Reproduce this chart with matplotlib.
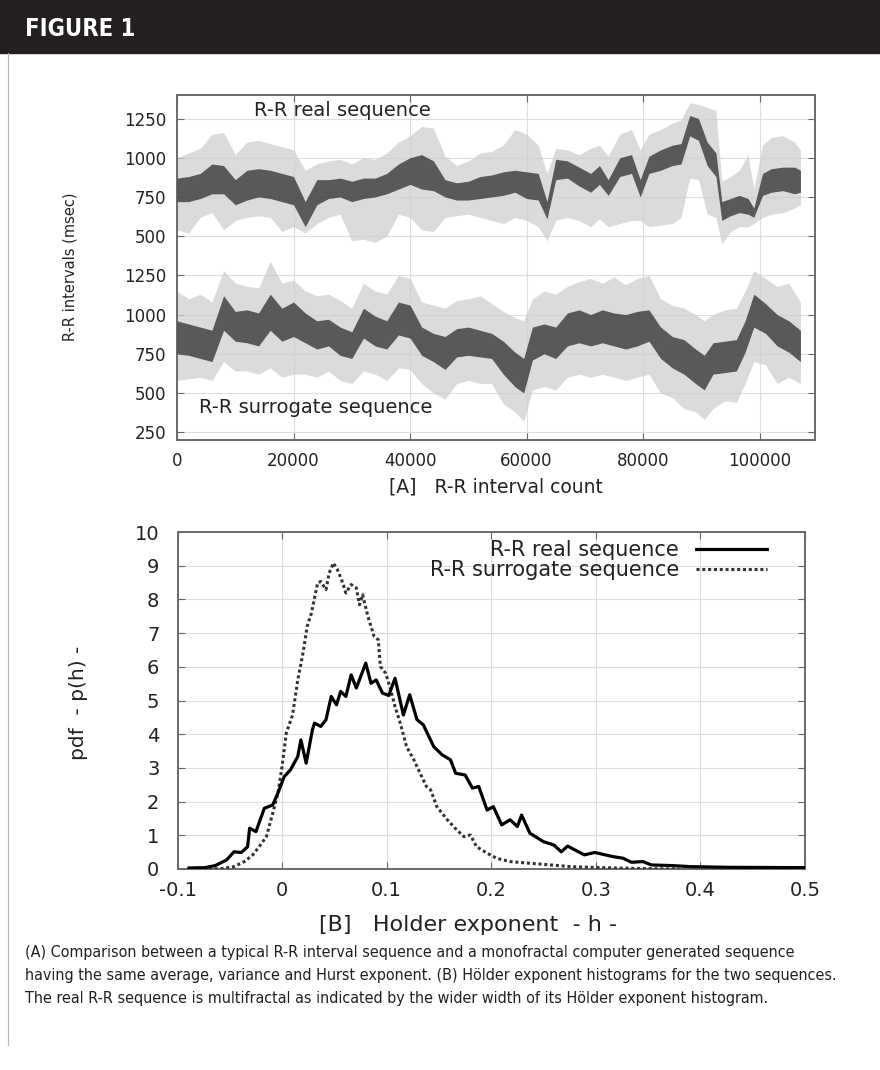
import matplotlib
matplotlib.use("Agg")
import matplotlib.pyplot as plt
from matplotlib import font_manager
from matplotlib.lines import Line2D
from matplotlib.patches import Rectangle
import numpy as np

# ---- data ---------------------------------------------------------------
# panel A: R-R interval sequences, summarised per block of beats
# (lowest sparse point, dense core low, dense core high, highest sparse point)
real_count = [0, 2000, 4000, 6000, 8000, 10000, 12000, 14000, 16000, 18000,
              20000, 22000, 24000, 26000, 28000, 30000, 32000, 34000, 36000, 38000,
              40000, 42000, 44000, 46000, 48000, 50000, 52000, 54000, 56000, 58000,
              60000, 62000, 63500, 65000, 67000, 69000, 71000, 72500, 74000, 76000,
              78000, 79500, 81000, 83000, 85000, 86500, 88000, 89500, 91000, 92500,
              93500, 95000, 96500, 98000, 99000, 100500, 102000, 104000, 106000, 107000]
real_lo = [540, 520, 620, 650, 540, 600, 620, 630, 620, 530,
           560, 520, 580, 620, 640, 470, 480, 460, 500, 640,
           620, 540, 530, 620, 630, 640, 620, 600, 580, 620,
           600, 560, 470, 600, 620, 600, 560, 610, 560, 580,
           600, 600, 560, 570, 580, 620, 870, 860, 640, 620,
           450, 530, 560, 560, 580, 620, 640, 650, 680, 700]
real_core_lo = [720, 720, 740, 770, 770, 700, 730, 750, 740, 720,
                700, 560, 700, 740, 750, 720, 740, 750, 770, 800,
                830, 800, 790, 750, 730, 730, 740, 750, 760, 780,
                740, 730, 610, 860, 870, 820, 780, 830, 760, 880,
                900, 750, 900, 920, 950, 960, 1140, 1110, 950, 880,
                600, 630, 650, 640, 620, 760, 780, 790, 770, 780]
real_core_hi = [870, 880, 900, 960, 950, 860, 920, 930, 920, 900,
                880, 720, 860, 860, 870, 850, 870, 870, 900, 960,
                1000, 1020, 980, 860, 840, 850, 880, 890, 910, 920,
                910, 900, 720, 990, 980, 940, 900, 950, 860, 1000,
                1020, 860, 1010, 1050, 1080, 1090, 1270, 1250, 1100, 1030,
                720, 740, 760, 740, 680, 900, 930, 940, 940, 920]
real_hi = [1000, 1030, 1060, 1150, 1160, 1020, 1100, 1110, 1090, 1070,
           1050, 920, 960, 980, 990, 960, 1000, 990, 1030, 1100,
           1140, 1200, 1190, 1010, 950, 980, 1030, 1040, 1080, 1180,
           1150, 1080, 900, 1060, 1050, 1020, 1060, 1080, 1010, 1150,
           1180, 1050, 1150, 1180, 1220, 1240, 1350, 1340, 1320, 1300,
           850, 880, 920, 1020, 800, 1080, 1130, 1140, 1100, 1050]

sur_count = [0, 2000, 4000, 6000, 8000, 10000, 12000, 14000, 16000, 18000,
             20000, 22000, 24000, 26000, 28000, 30000, 32000, 34000, 36000, 38000,
             40000, 42000, 44000, 46000, 48000, 50000, 52000, 54000, 56000, 58000,
             59500, 61000, 63000, 65000, 67000, 69000, 71000, 73000, 75000, 77000,
             79000, 81000, 83000, 85000, 87000, 89000, 90500, 92000, 94000, 96000,
             97500, 99000, 101000, 103000, 105000, 107000]
sur_lo = [580, 590, 600, 580, 700, 640, 640, 620, 660, 600,
          620, 620, 600, 640, 580, 560, 640, 620, 580, 660,
          650, 560, 500, 460, 560, 580, 560, 560, 430, 380,
          320, 520, 540, 520, 600, 620, 600, 620, 600, 580,
          600, 620, 500, 470, 400, 380, 330, 400, 450, 440,
          560, 700, 680, 560, 600, 560]
sur_core_lo = [750, 740, 720, 700, 900, 830, 820, 800, 900, 830,
               860, 820, 780, 800, 740, 720, 850, 800, 780, 870,
               850, 740, 700, 650, 730, 740, 730, 720, 620, 540,
               500, 710, 750, 720, 800, 820, 800, 820, 800, 780,
               800, 830, 720, 660, 620, 560, 520, 620, 630, 640,
               760, 920, 880, 800, 760, 700]
sur_core_hi = [960, 940, 920, 900, 1120, 1020, 1030, 1010, 1130, 1040,
               1080, 1010, 960, 970, 920, 890, 1040, 990, 960, 1080,
               1060, 920, 880, 860, 910, 920, 900, 880, 830, 760,
               720, 920, 940, 920, 1010, 1030, 1000, 1030, 1010, 1000,
               1020, 1030, 920, 860, 840, 780, 740, 820, 830, 840,
               960, 1130, 1070, 1000, 960, 900]
sur_hi = [1150, 1100, 1130, 1080, 1280, 1200, 1180, 1170, 1340, 1200,
          1220, 1150, 1120, 1130, 1090, 1040, 1200, 1150, 1130, 1250,
          1230, 1080, 1060, 1040, 1090, 1100, 1120, 1070, 1020, 980,
          960, 1100, 1150, 1130, 1180, 1210, 1230, 1200, 1240, 1190,
          1230, 1250, 1100, 1060, 1040, 1000, 960, 1000, 1030, 1040,
          1150, 1280, 1230, 1180, 1200, 1080]

a_yticks = [250, 500, 750, 1000, 1250, 1500, 1750, 2000, 2250]
a_yticklabels = ["250", "500", "750", "1000", "1250", "500", "750", "1000", "1250"]
a_xticks = [0, 20000, 40000, 60000, 80000, 100000]

# panel B: Holder exponent histograms
h_real = [-0.089, -0.074, -0.064, -0.053, -0.046, -0.039, -0.033, -0.031, -0.025, -0.017,
          -0.009, -0.004, 0.002, 0.008, 0.015, 0.018, 0.023, 0.029, 0.031, 0.037,
          0.042, 0.047, 0.052, 0.056, 0.061, 0.066, 0.071, 0.080, 0.085, 0.090,
          0.096, 0.102, 0.108, 0.116, 0.122, 0.129, 0.135, 0.145, 0.153, 0.161,
          0.166, 0.175, 0.182, 0.188, 0.196, 0.202, 0.210, 0.218, 0.225, 0.229,
          0.237, 0.250, 0.260, 0.267, 0.273, 0.289, 0.299, 0.316, 0.326, 0.334,
          0.345, 0.353, 0.374, 0.390, 0.428, 0.500]
p_real = [0.03, 0.04, 0.10, 0.27, 0.51, 0.49, 0.66, 1.21, 1.11, 1.80,
          1.90, 2.25, 2.74, 2.94, 3.34, 3.83, 3.14, 4.13, 4.33, 4.23,
          4.43, 5.12, 4.87, 5.27, 5.12, 5.76, 5.37, 6.11, 5.51, 5.61,
          5.22, 5.15, 5.66, 4.57, 5.17, 4.43, 4.28, 3.63, 3.39, 3.24,
          2.84, 2.79, 2.40, 2.45, 1.75, 1.85, 1.31, 1.46, 1.26, 1.60,
          1.06, 0.81, 0.71, 0.51, 0.68, 0.42, 0.49, 0.37, 0.32, 0.20,
          0.22, 0.12, 0.10, 0.07, 0.05, 0.04]

h_sur = [-0.070, -0.058, -0.046, -0.036, -0.028, -0.022, -0.015, -0.009, -0.004, 0.000,
         0.004, 0.010, 0.015, 0.020, 0.024, 0.028, 0.031, 0.034, 0.037, 0.042,
         0.045, 0.049, 0.053, 0.058, 0.061, 0.066, 0.071, 0.074, 0.077, 0.082,
         0.088, 0.092, 0.094, 0.099, 0.103, 0.108, 0.113, 0.119, 0.126, 0.132,
         0.138, 0.142, 0.148, 0.158, 0.167, 0.174, 0.180, 0.186, 0.196, 0.205,
         0.218, 0.237, 0.257, 0.276, 0.295, 0.320, 0.350, 0.380]
p_sur = [0.00, 0.01, 0.07, 0.22, 0.42, 0.66, 0.96, 1.65, 2.25, 3.04,
         4.03, 4.57, 5.61, 6.41, 7.20, 7.59, 8.04, 8.49, 8.53, 8.29,
         8.78, 9.08, 8.88, 8.49, 8.19, 8.44, 8.34, 7.84, 8.14, 7.50,
         6.90, 6.80, 6.01, 5.81, 5.42, 4.82, 4.33, 3.63, 3.24, 2.84,
         2.45, 2.35, 1.85, 1.46, 1.16, 0.96, 1.01, 0.66, 0.47, 0.32,
         0.22, 0.17, 0.12, 0.07, 0.05, 0.03, 0.01, 0.00]

b_xticks = [-0.1, 0, 0.1, 0.2, 0.3, 0.4, 0.5]
b_xticklabels = ["-0.1", "0", "0.1", "0.2", "0.3", "0.4", "0.5"]
b_yticks = list(range(0, 11))

caption = [
    "(A) Comparison between a typical R-R interval sequence and a monofractal computer generated sequence",
    "having the same average, variance and Hurst exponent. (B) H\u00f6lder exponent histograms for the two sequences.",
    "The real R-R sequence is multifractal as indicated by the wider width of its H\u00f6lder exponent histogram.",
]

REAL_OFFSET = 1000  # the real sequence is drawn shifted up on the shared axis

# ---- fonts ---------------------------------------------------------------
names = {f.name for f in font_manager.fontManager.ttflist}
NARROW = "Liberation Sans Narrow" if "Liberation Sans Narrow" in names else "DejaVu Sans"
plt.rcParams["font.family"] = ["DejaVu Sans"]

W, H = 880, 1070
fig = plt.figure(figsize=(W / 100, H / 100), dpi=100)


def fx(px):
    return px / W


def fy(py):
    return 1 - py / H


# header band and left rule
fig.patches.append(Rectangle((0, fy(53)), 1, 53 / H, transform=fig.transFigure,
                             color="#231f20", zorder=0))
fig.text(fx(25), fy(29), "FIGURE 1", color="white", fontsize=17, fontweight="bold",
         family=NARROW, fontstretch="condensed", va="center", ha="left")
fig.add_artist(Line2D([fx(7.5), fx(7.5)], [fy(53), fy(1045)], color="#b5b5b5", lw=0.8))


def style_axes(ax, labelsize, xpad, ypad):
    ax.tick_params(direction="in", length=5, width=0.8, top=True, right=True,
                   color="#666666", labelcolor="#222222", labelsize=labelsize)
    ax.tick_params(axis="x", pad=xpad)
    ax.tick_params(axis="y", pad=ypad)
    for s in ax.spines.values():
        s.set_color("#6a6a6a")
        s.set_linewidth(1.4)
    ax.grid(color="#dedede", lw=0.8)
    ax.set_axisbelow(True)


def draw_band(ax, x, lo, clo, chi, hi, shift):
    x = np.asarray(x, float)
    lo, clo = np.asarray(lo) + shift, np.asarray(clo) + shift
    chi, hi = np.asarray(chi) + shift, np.asarray(hi) + shift
    ax.fill_between(x, lo, hi, color="#cfcfcf", alpha=0.75, lw=0, zorder=2)
    ax.fill_between(x, clo, chi, color="#3c3c3c", alpha=0.82, lw=0, zorder=4)


# ---- panel A -------------------------------------------------------------
ax1 = fig.add_axes([fx(177), fy(440), fx(815) - fx(177), (440 - 95) / H])
draw_band(ax1, real_count, real_lo, real_core_lo, real_core_hi, real_hi, REAL_OFFSET)
draw_band(ax1, sur_count, sur_lo, sur_core_lo, sur_core_hi, sur_hi, 0)
ax1.set_xlim(0, 109500)
ax1.set_ylim(200, 2400)
ax1.set_xticks(a_xticks)
ax1.set_xticklabels([str(v) for v in a_xticks])
ax1.set_yticks(a_yticks)
ax1.set_yticklabels(a_yticklabels)
style_axes(ax1, 12, 9, 8)
ax1.text(13200, 2300, "R-R real sequence", fontsize=14, color="#222222",
         va="center", ha="left", zorder=6)
ax1.text(3800, 408, "R-R surrogate sequence", fontsize=14, color="#222222",
         va="center", ha="left", zorder=6)
fig.text(fx(496), fy(487), "[A]   R-R interval count", fontsize=13.5, color="#222222",
         ha="center", va="center")
fig.text(fx(70), fy(267), "R-R intervals (msec)", fontsize=10.5, color="#222222",
         rotation=90, ha="center", va="center")

# ---- panel B -------------------------------------------------------------
ax2 = fig.add_axes([fx(177.5), fy(869), fx(805) - fx(177.5), (869 - 532) / H])
ax2.plot(h_real, p_real, color="black", lw=2.3, label="R-R real sequence", zorder=5)
ax2.plot(h_sur, p_sur, color="#333333", lw=2.2, linestyle=(0, (1, 0.9)),
         dash_capstyle="butt", label="R-R surrogate sequence", zorder=4)
ax2.set_xlim(-0.1, 0.5)
ax2.set_ylim(0, 10)
ax2.set_xticks(b_xticks)
ax2.set_xticklabels(b_xticklabels)
ax2.set_yticks(b_yticks)
style_axes(ax2, 14, 9, 13)
leg = ax2.legend(loc="upper right", bbox_to_anchor=(0.952, 1.0), frameon=False,
                 markerfirst=False, fontsize=15, handlelength=3.4, handletextpad=0.8,
                 labelspacing=0.0, borderaxespad=0.2, borderpad=0.2)
for t in leg.get_texts():
    t.set_color("#222222")
fig.text(fx(468), fy(925), "[B]   Holder exponent  - h -", fontsize=16, color="#222222",
         ha="center", va="center")
fig.text(fx(78), fy(703), "pdf  - p(h) -", fontsize=14.5, color="#222222",
         rotation=90, ha="center", va="center")

# ---- caption -------------------------------------------------------------
cap_texts = []
for i, line in enumerate(caption):
    t = fig.text(fx(25), fy(952 + 23.5 * i), line, fontsize=12, color="#231f20",
                 family=NARROW, fontstretch="condensed", ha="left", va="center")
    cap_texts.append(t)
renderer = fig.canvas.get_renderer()
w0 = max(t.get_window_extent(renderer).width for t in cap_texts)
size = 12 * (842 - 25) / w0
for t in cap_texts:
    t.set_fontsize(size)

fig.savefig("out.png", dpi=100)
